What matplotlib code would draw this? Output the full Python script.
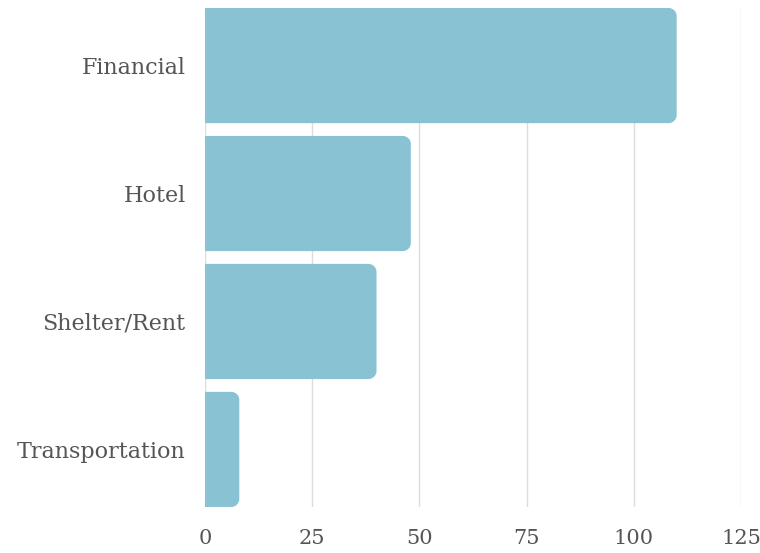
import matplotlib.pyplot as plt
from matplotlib.path import Path
from matplotlib.patches import PathPatch

categories = ["Financial", "Hotel", "Shelter/Rent", "Transportation"]
values = [110, 48, 40, 8]
xticks = [0, 25, 50, 75, 100, 125]

bar_color = "#89c3d3"
text_color = "#555555"

fig = plt.figure(figsize=(7.6, 5.53), dpi=100)
ax = fig.add_axes([205 / 760, 46 / 553, 536 / 760, 499 / 553])

ypos = list(range(len(categories)))
ax.set_xlim(0, 125)
ax.set_ylim(len(categories) - 0.55, -0.45)

# bar radius in pixels -> data units
r_px = 8
rx = r_px * 125 / 536
ry = r_px * 3.9 / 499
h = 0.9


def rounded_bar(y, w):
    y0, y1 = y - h / 2, y + h / 2
    k = 0.55
    verts = [
        (0, y0),
        (w - rx, y0),
        (w - rx + rx * k, y0), (w, y0 + ry - ry * k), (w, y0 + ry),
        (w, y1 - ry),
        (w, y1 - ry + ry * k), (w - rx + rx * k, y1), (w - rx, y1),
        (0, y1),
        (0, y0),
    ]
    codes = [Path.MOVETO, Path.LINETO,
             Path.CURVE4, Path.CURVE4, Path.CURVE4,
             Path.LINETO,
             Path.CURVE4, Path.CURVE4, Path.CURVE4,
             Path.LINETO, Path.CLOSEPOLY]
    return PathPatch(Path(verts, codes), facecolor=bar_color, edgecolor="none", zorder=3)


for y, v in zip(ypos, values):
    ax.add_patch(rounded_bar(y, v))

ax.set_yticks(ypos)
ax.set_yticklabels(categories)
ax.set_xticks(xticks)
ax.set_xticklabels([str(t) for t in xticks])

for s in ax.spines.values():
    s.set_visible(False)

ax.grid(axis="x", color="#dcdcdc", linewidth=1, zorder=0)
ax.tick_params(axis="both", length=0, labelcolor=text_color)
ax.tick_params(axis="y", pad=14, labelsize=16)
ax.tick_params(axis="x", pad=16, labelsize=15)
for lab in ax.get_xticklabels() + ax.get_yticklabels():
    lab.set_family("DejaVu Serif")
for lab in ax.get_yticklabels():
    lab.set_va("center_baseline")

fig.savefig("out.png", dpi=100)
